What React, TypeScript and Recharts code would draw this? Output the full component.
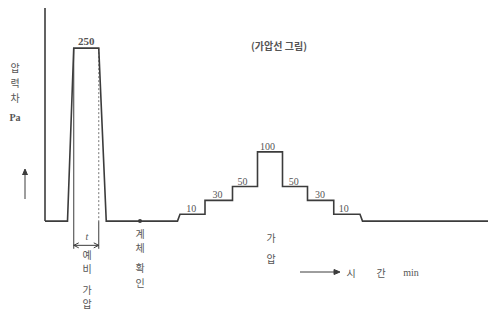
import React from "react";
import { LineChart, Line, XAxis, YAxis, ReferenceLine, ReferenceDot } from "recharts";

// pressure profile (time in arbitrary min units, pressure difference in Pa)
const profileTime = [0, 9, 11.5, 21.5, 24.5, 53, 54, 64, 64, 75, 75, 85, 85, 95, 95, 105, 105, 115.5, 115.5, 126, 127, 177.2];
const profilePressure = [0, 0, 250, 250, 0, 0, 10, 10, 30, 30, 50, 50, 100, 100, 50, 50, 30, 30, 10, 10, 0, 0];

// step labels
const stepMid = [58.5, 69, 79, 89, 99.5, 110, 119.5];
const stepValue = [10, 30, 50, 100, 50, 30, 10];

// pre-pressurising pulse
const pulseStart = 11.5;
const pulseEnd = 21.5;
const pulseMid = 16.5;
const pulsePeak = 250;
const checkTime = 38;

const data = profileTime.map((t, i) => ({ t, p: profilePressure[i] }));

const INK = "#3c3c3c";
const TEXT = "#555";
const KR = "'Noto Sans CJK KR', sans-serif";
const NUM = "'Liberation Serif', serif";

const DimArrow = (props: any) => {
  const { x1, y1, x2, y2 } = props;
  return (
    <g stroke={INK} strokeWidth={1} fill="none">
      <line x1={x1} y1={y1} x2={x2} y2={y2} />
      <path d={`M${x1 + 5},${y1 - 2.5} L${x1},${y1} L${x1 + 5},${y1 + 2.5}`} />
      <path d={`M${x2 - 5},${y2 - 2.5} L${x2},${y2} L${x2 - 5},${y2 + 2.5}`} />
    </g>
  );
};

const VText = ({ x, chars, ys }: { x: number; chars: string[]; ys: number[] }) => (
  <g>
    {chars.map((c, i) => (
      <text key={i} x={x} y={ys[i]} textAnchor="middle" dominantBaseline="central" fontSize={10} fill={TEXT} fontFamily={KR}>
        {c}
      </text>
    ))}
  </g>
);

export default function App() {
  return (
    <div style={{ position: "absolute", left: 0, top: 0, width: 488, height: 312, background: "#fff" }}>
      <LineChart width={488} height={312} data={data} margin={{ top: 8, right: 0, bottom: 12, left: 0 }}>
        <XAxis dataKey="t" type="number" domain={[-18, 177.2]} hide />
        <YAxis type="number" domain={[-114, 308]} hide />
        {/* y axis */}
        <ReferenceLine segment={[{ x: 0, y: 0 }, { x: 0, y: 308 }]} stroke={INK} strokeWidth={1.6} />
        {/* dimension lines of pre-pressurising time t */}
        <ReferenceLine segment={[{ x: pulseStart, y: pulsePeak }, { x: pulseStart, y: -40 }]} stroke={INK} strokeWidth={1} />
        <ReferenceLine segment={[{ x: pulseEnd, y: pulsePeak }, { x: pulseEnd, y: 0 }]} stroke="#777" strokeWidth={1} strokeDasharray="2 2" />
        <ReferenceLine segment={[{ x: pulseEnd, y: 0 }, { x: pulseEnd, y: -40 }]} stroke={INK} strokeWidth={1} />
        <ReferenceLine segment={[{ x: pulseStart, y: -35 }, { x: pulseEnd, y: -35 }]} shape={DimArrow} />
        <Line
          dataKey="p"
          type="linear"
          stroke={INK}
          strokeWidth={1.6}
          dot={false}
          isAnimationActive={false}
        />
        <ReferenceDot x={checkTime} y={0} r={2} fill={INK} stroke="none" />
        <ReferenceDot
          x={pulseMid}
          y={pulsePeak}
          r={0}
          label={{ value: String(pulsePeak), position: "top", offset: 3, fontSize: 11, fontWeight: "bold", fill: TEXT, fontFamily: NUM }}
        />
        {stepMid.map((m, i) => (
          <ReferenceDot
            key={i}
            x={m}
            y={stepValue[i]}
            r={0}
            label={{ value: String(stepValue[i]), position: "top", offset: 2, fontSize: 10, fill: TEXT, fontFamily: NUM }}
          />
        ))}
      </LineChart>
      <svg width={488} height={312} style={{ position: "absolute", left: 0, top: 0, pointerEvents: "none" }}>
        <text x={279} y={45} textAnchor="middle" dominantBaseline="central" fontSize={10} fontWeight="bold" fill={TEXT} fontFamily={KR}>
          (가압선 그림)
        </text>
        <VText x={15} chars={["압", "력", "차"]} ys={[67, 82, 97]} />
        <text x={15} y={117} textAnchor="middle" dominantBaseline="central" fontSize={10} fontWeight="bold" fill={TEXT} fontFamily={NUM}>
          Pa
        </text>
        <g stroke={INK} strokeWidth={1} fill="none">
          <line x1={25} y1={199} x2={25} y2={170} />
          <path d="M22.5,175 L25,169 L27.5,175" fill={INK} />
        </g>
        <text x={87} y={240} textAnchor="middle" fontSize={10} fontStyle="italic" fill={TEXT} fontFamily={NUM}>
          t
        </text>
        <VText x={87} chars={["예", "비", "가", "압"]} ys={[254, 268, 289, 303]} />
        <VText x={140} chars={["계", "체", "확", "인"]} ys={[233, 247, 267, 282]} />
        <VText x={271} chars={["가", "압"]} ys={[237, 258]} />
        <g stroke={INK} strokeWidth={1} fill={INK}>
          <line x1={300} y1={272} x2={337} y2={272} />
          <path d="M334,269.5 L340,272 L334,274.5 Z" />
        </g>
        <text x={351} y={272} textAnchor="middle" dominantBaseline="central" fontSize={10} fill={TEXT} fontFamily={KR}>시</text>
        <text x={381} y={272} textAnchor="middle" dominantBaseline="central" fontSize={10} fill={TEXT} fontFamily={KR}>간</text>
        <text x={411} y={272} textAnchor="middle" dominantBaseline="central" fontSize={10} fill={TEXT} fontFamily={NUM}>min</text>
      </svg>
    </div>
  );
}
